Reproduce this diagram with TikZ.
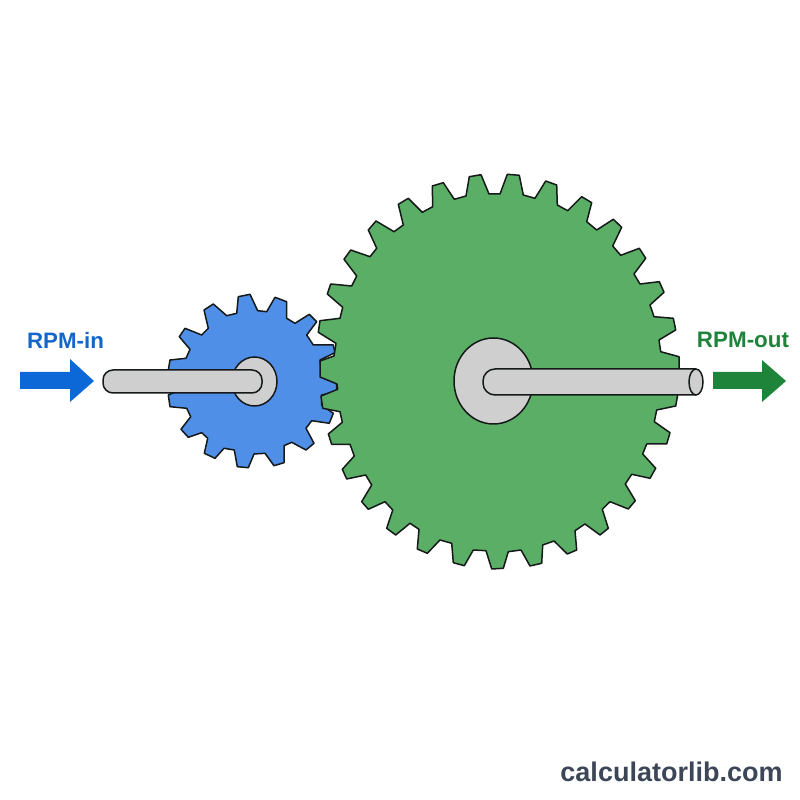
\documentclass[tikz,border=0pt]{standalone}
\usepackage{fontspec}
\setmainfont{Liberation Sans}
\definecolor{geargreen}{HTML}{5AAE65}
\definecolor{gearblue}{HTML}{4F8FE8}
\definecolor{arrowblue}{HTML}{0B68D6}
\definecolor{labelblue}{HTML}{1467C8}
\definecolor{arrowgreen}{HTML}{1E8439}
\definecolor{steel}{HTML}{CFCFCF}
\definecolor{outline}{HTML}{15191A}
\definecolor{mark}{HTML}{3C4656}
\tikzset{
  part/.style={draw=outline,line width=1.5pt,line join=round},
  label/.style={inner sep=0pt,anchor=center}
}
\begin{document}
\begin{tikzpicture}[x=1pt,y=1pt]
\useasboundingbox (0,0) rectangle (800,800);
\begin{scope}[yshift=800pt,y=-1pt]
  % input pinion, clockwise from the top tooth
  \draw[part,fill=gearblue] plot coordinates {
    (238.3,296.7) (250,294.3) (257.7,310.7) (266.7,311.7) (275,297.3) (286.7,301.7)
    (286.7,318.3) (295,323.3) (309.3,314.3) (316.7,321.7) (306.7,335) (313.3,345)
    (333.3,345) (335,352.7) (320,360) (321.7,373.3) (336.7,379.3) (336.7,391.7)
    (321.7,395) (321.7,405) (333.3,413.3) (329.3,423.3) (311.7,420.7) (306,428.3)
    (314,443.3) (306,450) (291.7,442.3) (284,445.7) (284,462.7) (274,465.7)
    (265,453.3) (254,454) (248.3,467.7) (237.3,466.7) (234.3,450) (224,448.3)
    (215,458.3) (204.3,453.3) (207.7,438.3) (201.7,432.7) (188.3,437.3) (181,429.3)
    (190.7,416.7) (186.7,408.3) (170,406.7) (168.3,395) (185,388) (185,375)
    (168.3,370) (170,360) (186,358.3) (190,349.3) (179.3,336.7) (185,328.3)
    (201.7,335) (208.3,328.3) (204,310) (213.3,304) (226.7,315.7) (236.7,313.3)
  } -- cycle;

  % output wheel, clockwise from the top gap
  \draw[part,fill=geargreen] plot coordinates {
    (489,194) (500,194) (507.3,174.3) (519.3,175.3) (523.3,195) (535,198.3)
    (545.7,181) (556.7,185) (557.3,205) (567.7,210.7) (581.7,196.7) (591.7,202.7)
    (586.7,221.7) (596.7,230) (613.3,219.3) (621.7,227.3) (612.7,246) (620.7,255.3)
    (639.3,248.3) (645.7,258.3) (634,274) (640,284) (659.3,281.7) (664,292.3)
    (650,305) (654,316.7) (673.3,318.3) (675.7,330) (659,340) (660.7,351.7)
    (679,356.7) (679,369) (660,375) (660,385) (677.7,395) (675.7,406)
    (656.7,410) (654.3,421.7) (670,432.7) (666.7,444) (646.7,444) (642.7,454)
    (655.7,468.3) (650,478.3) (631.7,474.3) (625.3,484) (635.3,500.7) (628.3,509)
    (610,501.7) (602.3,509.3) (608.3,528.3) (600,535) (585,524) (575,530.7)
    (576.7,550) (567.3,554) (554,541) (542.7,545) (541.7,563.3) (530,566)
    (521,550) (508.3,551.7) (503.3,568.3) (491.7,569) (486,550.7) (473.3,550)
    (464.3,565.7) (453.3,562.7) (451.7,543.3) (440,540) (427.3,553.3) (417.3,549)
    (419,529.3) (410,523.3) (395.7,535) (386.7,528.3) (392.7,510) (385,501.7)
    (368.3,509.3) (361.7,501.7) (371.7,485) (365.7,475) (346.7,479) (342.3,469.3)
    (354.3,456) (350,444.3) (331.7,444.3) (328.3,434) (342.3,422.3) (340,411.7)
    (322.7,408.3) (321,396) (337.7,389.3) (337,384) (320,377) (320,361)
    (334,356) (336,343.3) (318.3,332.3) (320,320.7) (340,318.3) (342.7,307.3)
    (327.3,294) (330.7,284) (351.7,286) (356.7,276) (344,259.3) (350.7,250)
    (370,256.7) (376.7,248.3) (368.3,230) (376,221) (394,231.7) (403.3,225)
    (398.3,204.3) (408.3,198.3) (422.3,212.3) (432.7,206.7) (432.3,186) (443.3,182.7)
    (454.3,199.3) (466,196) (469.3,176.7) (481,174.7)
  } -- cycle;

  % input shaft and hub
  \draw[part,fill=steel] (254.5,381.5) ellipse [x radius=22.5,y radius=24.5];
  \draw[part,fill=steel,rounded corners=10pt] (103,370) rectangle (262,393);

  % output hub and shaft
  \draw[part,fill=steel] (493.5,381) ellipse [x radius=39.5,y radius=43];
  \draw[part,fill=steel,rounded corners=12pt] (696,395) -- (483,395) -- (483,369) -- (696,369);
  \draw[part,fill=steel] (696,382) ellipse [x radius=7,y radius=13];

  % direction arrows
  \fill[arrowblue] (20,372) -- (70,372) -- (70,359) -- (94,381) -- (70,402) -- (70,389) -- (20,389) -- cycle;
  \fill[arrowgreen] (713,372) -- (762,372) -- (762,360) -- (786,381) -- (762,402) -- (762,389) -- (713,389) -- cycle;

  \node[label,text=labelblue,font=\bfseries\fontsize{22.3}{24}\selectfont] (rpmin) at (65.5,340) {RPM-in};
  \node[label,text=arrowgreen,font=\bfseries\fontsize{22.4}{24}\selectfont] (rpmout) at (743,340) {RPM-out};
  \node[label,text=mark,font=\bfseries\fontsize{27}{29}\selectfont] (site) at (671.5,772) {calculatorlib.com};
\end{scope}
\end{tikzpicture}
\end{document}
